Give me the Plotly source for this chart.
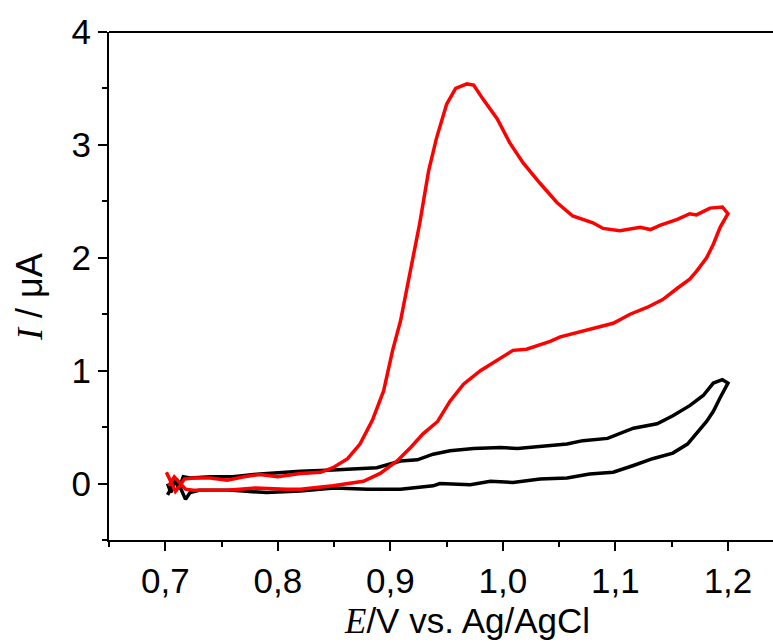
import plotly.graph_objects as go

# Red CV (with analyte): forward (anodic) and reverse branches
red_fwd_E = [0.701, 0.705, 0.709, 0.713, 0.717, 0.725, 0.740, 0.755, 0.770, 0.784, 0.800, 0.820, 0.838,
             0.849, 0.862, 0.873, 0.879, 0.884, 0.894, 0.902, 0.909, 0.918, 0.926, 0.934, 0.941, 0.950,
             0.958, 0.968, 0.974, 0.982, 0.995, 1.006, 1.018, 1.033, 1.048, 1.062, 1.080, 1.089, 1.104,
             1.122, 1.131, 1.140, 1.155, 1.166, 1.172, 1.184, 1.195, 1.200]
red_fwd_I = [0.10, 0.02, -0.07, -0.02, 0.04, 0.05, 0.05, 0.03, 0.06, 0.08, 0.06, 0.09, 0.10,
             0.14, 0.22, 0.35, 0.47, 0.56, 0.82, 1.18, 1.44, 1.90, 2.30, 2.77, 3.06, 3.36,
             3.50, 3.54, 3.53, 3.41, 3.23, 3.02, 2.84, 2.66, 2.49, 2.37, 2.31, 2.26, 2.24,
             2.27, 2.25, 2.29, 2.34, 2.39, 2.38, 2.44, 2.45, 2.39]
red_rev_E = [1.193, 1.187, 1.181, 1.172, 1.166, 1.155, 1.142, 1.128, 1.113, 1.098, 1.083, 1.066, 1.051,
             1.042, 1.021, 1.009, 0.998, 0.980, 0.965, 0.953, 0.942, 0.929, 0.918, 0.906, 0.891, 0.876,
             0.849, 0.820, 0.808, 0.780, 0.755, 0.725, 0.718, 0.713, 0.708, 0.703]
red_rev_I = [2.27, 2.12, 2.00, 1.88, 1.81, 1.73, 1.63, 1.56, 1.50, 1.42, 1.38, 1.34, 1.30,
             1.26, 1.19, 1.18, 1.11, 1.00, 0.88, 0.73, 0.55, 0.44, 0.32, 0.20, 0.09, 0.02,
             -0.02, -0.05, -0.05, -0.04, -0.06, -0.06, -0.05, 0.00, 0.06, -0.02]

# Black CV (blank)
blk_fwd_E = [0.702, 0.705, 0.708, 0.712, 0.716, 0.722, 0.740, 0.760, 0.784, 0.820, 0.849, 0.888, 0.909,
             0.924, 0.938, 0.953, 0.974, 0.998, 1.013, 1.033, 1.057, 1.071, 1.093, 1.116, 1.137,
             1.151, 1.166, 1.178, 1.187, 1.195, 1.200]
blk_fwd_I = [0.00, -0.08, 0.05, -0.05, 0.06, 0.05, 0.06, 0.06, 0.085, 0.11, 0.12, 0.14, 0.20,
             0.21, 0.26, 0.29, 0.31, 0.32, 0.31, 0.33, 0.35, 0.38, 0.40, 0.49, 0.53,
             0.60, 0.69, 0.78, 0.89, 0.92, 0.89]
blk_rev_E = [1.193, 1.187, 1.181, 1.172, 1.164, 1.151, 1.133, 1.116, 1.098, 1.077, 1.057, 1.033, 1.009,
             0.989, 0.971, 0.944, 0.938, 0.909, 0.880, 0.850, 0.820, 0.790, 0.760, 0.730, 0.722,
             0.718, 0.714, 0.710, 0.706, 0.702]
blk_rev_I = [0.76, 0.64, 0.55, 0.44, 0.35, 0.27, 0.22, 0.16, 0.10, 0.085, 0.05, 0.04, 0.01,
             0.02, -0.01, 0.00, -0.02, -0.05, -0.05, -0.04, -0.065, -0.08, -0.06, -0.06, -0.08,
             -0.14, -0.04, 0.04, -0.03, -0.10]

x_ticks = [0.7, 0.8, 0.9, 1.0, 1.1, 1.2]
y_ticks = [0, 1, 2, 3, 4]

fig = go.Figure()
fig.add_trace(go.Scatter(x=blk_fwd_E + blk_rev_E, y=blk_fwd_I + blk_rev_I, mode="lines",
                         line=dict(color="black", width=3.5), showlegend=False))
fig.add_trace(go.Scatter(x=red_fwd_E + red_rev_E, y=red_fwd_I + red_rev_I, mode="lines",
                         line=dict(color="#ff0000", width=3.5), showlegend=False))

tickfont = dict(family="Liberation Sans, Arial", size=35, color="black")
fig.update_layout(
    width=773, height=643,
    margin=dict(l=109, r=0, t=32, b=103),
    plot_bgcolor="white", paper_bgcolor="white",
    separators=",.",
    showlegend=False,
    xaxis=dict(range=[0.65, 1.24], tickvals=x_ticks, tickformat=".1f", ticks="outside",
               ticklen=9, tickwidth=2, tickcolor="black", showline=True, linewidth=2,
               linecolor="black", showgrid=False, zeroline=False, tickfont=tickfont,
               minor=dict(dtick=0.05, tick0=0.65, ticks="outside", ticklen=5, tickwidth=2,
                          tickcolor="black", showgrid=False)),
    yaxis=dict(range=[-0.5, 4], tickvals=y_ticks, ticks="outside",
               ticklen=9, tickwidth=2, tickcolor="black", showline=True, linewidth=2,
               linecolor="black", showgrid=False, zeroline=False, tickfont=tickfont,
               minor=dict(dtick=0.5, tick0=-0.5, ticks="outside", ticklen=5, tickwidth=2,
                          tickcolor="black", showgrid=False)),
    shapes=[dict(type="line", xref="paper", yref="paper", x0=0, x1=1, y0=1, y1=1,
                 line=dict(color="black", width=2))],
    annotations=[
        dict(text="<span style=\"font-family:'Liberation Serif';font-style:italic\">E</span>/V vs. Ag/AgCl",
             xref="paper", yref="paper", x=(467 - 109) / 664, y=-(621 - 540) / 508,
             xanchor="center", yanchor="middle", showarrow=False,
             font=dict(family="Liberation Sans, Arial", size=35, color="black")),
        dict(text="<span style=\"font-family:'Liberation Serif';font-style:italic\">I</span> / μA",
             xref="paper", yref="paper", x=-(109 - 29) / 664, y=(540 - 297) / 508,
             xanchor="center", yanchor="middle", showarrow=False, textangle=-90,
             font=dict(family="Liberation Sans, Arial", size=36, color="black")),
    ],
)

fig.write_html("out.html")
